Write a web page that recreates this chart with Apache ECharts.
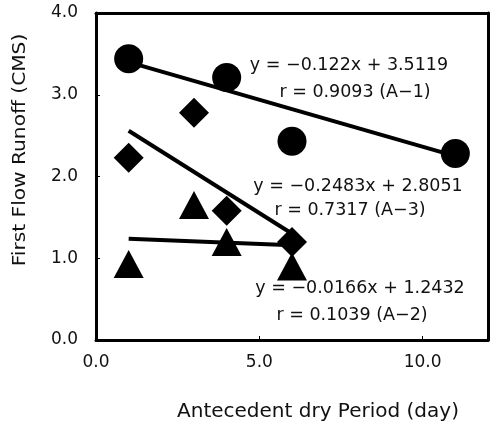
<html>
  <head>
    <meta charset="utf-8" />
    <title>First Flow Runoff</title>
  </head>
  <body style="margin:0;background:#ffffff">
    <div id="chart" style="width:497px;height:422px"></div>
    <script src="https://cdn.jsdelivr.net/npm/echarts@6/dist/echarts.min.js"></script>
    <script type="text/javascript">
      // measured points (day, CMS)
      var a1_points = [[1, 3.44], [4, 3.21], [6, 2.43], [11, 2.28]];
      var a3_points = [[1, 2.23], [3, 2.78], [4, 1.58], [6, 1.2]];
      var a2_points = [[1, 0.93], [3, 1.65], [4, 1.2], [6, 0.9]];
      // regression lines as drawn (start / end)
      var a1_line = [[1, 3.4], [11, 2.25]];
      var a3_line = [[1, 2.56], [6.2, 1.25]];
      var a2_line = [[1, 1.24], [6, 1.16]];
      var notes = [
        "y = \u22120.122x + 3.5119",
        "r = 0.9093 (A\u22121)",
        "y = \u22120.2483x + 2.8051",
        "r = 0.7317 (A\u22123)",
        "y = \u22120.0166x + 1.2432",
        "r = 0.1039 (A\u22122)"
      ];
      var note_x = [349, 355, 358, 350, 360, 352];
      var note_y = [65, 92, 186, 210, 288, 315];

      var chart = echarts.init(document.getElementById("chart"));
      var font = "DejaVu Sans";
      var ink = "#111";
      var edge = { show: true, onZero: false, lineStyle: { color: "#000", width: 3 } };
      var tick = { show: true, inside: true, length: 4, lineStyle: { color: "#000" } };

      function lineSeries(d) {
        return {
          type: "line",
          data: d,
          symbol: "none",
          lineStyle: { color: "#000", width: 4 },
          z: 2,
          silent: true
        };
      }
      function dotSeries(d, sym, size) {
        return {
          type: "scatter",
          data: d,
          symbol: sym,
          symbolSize: size,
          itemStyle: { color: "#000", opacity: 1 },
          z: 3
        };
      }
      function fmt(v) {
        return v.toFixed(1);
      }

      var texts = notes.map(function(t, i) {
        return {
          type: "text",
          x: note_x[i],
          y: note_y[i],
          style: {
            text: t,
            fill: ink,
            font: "17.5px " + font,
            align: "center",
            verticalAlign: "middle"
          },
          z: 10
        };
      });
      // axis names
      texts.push({
        type: "text",
        x: 318,
        y: 412,
        style: {
          text: "Antecedent dry Period (day)",
          fill: ink,
          font: "20px " + font,
          align: "center",
          verticalAlign: "middle"
        }
      });
      texts.push({
        type: "text",
        x: 20,
        y: 150,
        rotation: Math.PI / 2,
        scaleX: 1.12,
        style: {
          text: "First Flow Runoff (CMS)",
          fill: ink,
          font: "18px " + font,
          align: "center",
          verticalAlign: "middle"
        }
      });

      var option = {
        backgroundColor: "#ffffff",
        animation: false,
        grid: { left: 96, right: 9, top: 13, bottom: 82 },
        xAxis: [
          {
            type: "value",
            min: 0,
            max: 12,
            interval: 5,
            axisLine: edge,
            axisTick: tick,
            splitLine: { show: false },
            axisLabel: {
              color: ink,
              fontSize: 17,
              fontFamily: font,
              margin: 14,
              showMaxLabel: false,
              formatter: fmt
            }
          },
          {
            type: "value",
            position: "top",
            min: 0,
            max: 12,
            axisLine: edge,
            axisTick: { show: false },
            axisLabel: { show: false },
            splitLine: { show: false }
          }
        ],
        yAxis: [
          {
            type: "value",
            min: 0,
            max: 4,
            interval: 1,
            axisLine: edge,
            axisTick: tick,
            splitLine: { show: false },
            axisLabel: {
              color: ink,
              fontSize: 17,
              fontFamily: font,
              margin: 18,
              formatter: fmt
            }
          },
          {
            type: "value",
            position: "right",
            min: 0,
            max: 4,
            axisLine: edge,
            axisTick: { show: false },
            axisLabel: { show: false },
            splitLine: { show: false }
          }
        ],
        graphic: texts,
        series: [
          lineSeries(a1_line),
          lineSeries(a3_line),
          lineSeries(a2_line),
          dotSeries(a1_points, "circle", 29),
          dotSeries(a3_points, "diamond", [30, 30]),
          dotSeries(a2_points, "triangle", [30, 28])
        ]
      };
      chart.setOption(option);
    </script>
  </body>
</html>
